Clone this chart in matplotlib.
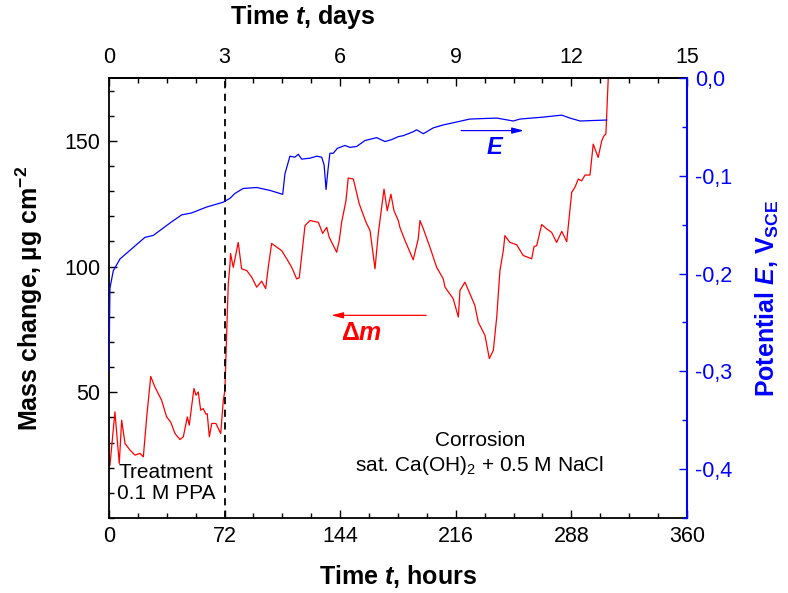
import numpy as np
import matplotlib
matplotlib.use('Agg')
import matplotlib.pyplot as plt
from matplotlib.ticker import MultipleLocator, FuncFormatter

plt.rcParams['font.family'] = ['Liberation Sans', 'DejaVu Sans']
plt.rcParams['mathtext.fontset'] = 'custom'
plt.rcParams['mathtext.rm'] = 'Liberation Sans'
plt.rcParams['mathtext.it'] = 'Liberation Sans:italic'
plt.rcParams['mathtext.bf'] = 'Liberation Sans:bold'
plt.rcParams['mathtext.bfit'] = 'Liberation Sans:bold:italic'

# mass change (left axis), hours vs ug/cm2
mass_t = [0.6, 3.7, 6.4, 7.9, 10.0, 13.1, 16.2, 19.3, 21.4, 23.5, 26.0, 28.6, 32.8, 35.9,
          38.4, 41.1, 44.2, 46.3, 48.8, 50.0, 52.9, 54.2, 55.6, 57.1, 58.7, 60.4, 61.2,
          62.5, 64.0, 66.6, 69.6, 71.2, 72.2, 73.3, 74.3, 75.4, 75.7, 77.4, 80.5, 82.6,
          85.8, 88.9, 92.0, 95.1, 97.6, 99.2, 101.3, 107.6, 110.7, 113.8, 116.9, 118.5,
          122.1, 125.2, 130.4, 133.1, 135.6, 137.2, 141.8, 143.4, 144.9, 147.6, 149.0,
          152.2, 155.9, 160.1, 162.6, 165.7, 167.7, 171.3, 173.3, 175.6, 177.5, 180.2,
          181.2, 184.4, 189.5, 192.6, 193.7, 195.8, 199.9, 204.1, 208.2, 209.3, 214.4,
          217.6, 218.6, 221.7, 224.8, 227.9, 230.0, 234.2, 236.9, 239.4, 241.5, 243.5,
          245.6, 246.6, 249.7, 253.9, 258.0, 263.3, 264.7, 266.4, 269.5, 272.6, 275.7,
          278.8, 282.0, 285.1, 288.2, 290.2, 292.3, 294.4, 296.5, 299.6, 301.6, 304.7,
          306.9, 308.3, 309.5, 311.0, 311.4]
mass_v = [21.0, 42.2, 21.7, 38.9, 29.6, 27.0, 25.0, 25.7, 24.3, 40.2, 56.3, 52.1, 46.8, 40.2,
          38.2, 33.6, 31.2, 32.3, 40.2, 36.9, 51.5, 48.8, 50.1, 42.9, 43.5, 41.3, 41.5,
          32.3, 37.6, 37.6, 33.6, 46.8, 50.8, 73.3, 93.1, 101.1, 105.2, 99.7, 109.6, 99.1,
          98.4, 95.8, 91.8, 94.2, 91.2, 99.7, 109.2, 106.3, 103.1, 99.7, 95.1, 95.5,
          116.3, 118.3, 117.6, 113.2, 115.6, 111.6, 105.7, 110.3, 117.6, 126.2, 135.2,
          134.8, 124.9, 117.6, 114.3, 99.1, 113.0, 130.8, 122.2, 128.8, 122.2, 118.3,
          115.6, 110.3, 102.7, 111.0, 118.3, 115.0, 107.7, 99.7, 95.1, 91.8, 87.2,
          79.9, 90.5, 93.8, 89.2, 84.5, 77.9, 72.6, 63.4, 66.7, 79.9, 98.4,
          106.3, 112.3, 109.6, 108.7, 104.4, 103.1, 107.9, 108.3, 116.7, 115.0, 113.6,
          109.6, 114.0, 109.9, 129.5, 131.5, 134.8, 134.1, 136.4, 136.4, 148.7, 143.4,
          150.0, 152.0, 152.7, 175.5, 182.0]

# potential (right axis), hours vs V_SCE
pot_t = [0.0, 0.6, 2.7, 6.9, 22.4, 27.6, 39.1, 45.3, 51.5, 60.8, 71.2, 75.4, 78.5, 83.6,
         92.0, 100.3, 108.2, 109.6, 112.7, 115.8, 117.9, 120.0, 125.2, 129.4, 132.5,
         134.0, 135.2, 136.4, 137.6, 139.7, 142.2, 147.0, 150.1, 154.3, 159.4, 166.7,
         171.9, 176.1, 180.2, 183.3, 189.5, 191.6, 195.8, 202.0, 208.2, 216.6, 224.8,
         241.5, 251.8, 256.0, 270.5, 282.0, 287.1, 293.4, 310.0]
pot_v = [-0.300, -0.215, -0.197, -0.185, -0.163, -0.161, -0.147, -0.140, -0.138, -0.132,
         -0.127, -0.123, -0.118, -0.113, -0.112, -0.115, -0.119, -0.098, -0.080, -0.081,
         -0.078, -0.083, -0.082, -0.080, -0.081, -0.089, -0.114, -0.094, -0.077, -0.077,
         -0.072, -0.069, -0.071, -0.070, -0.064, -0.061, -0.065, -0.063, -0.060, -0.059,
         -0.055, -0.053, -0.057, -0.051, -0.048, -0.045, -0.042, -0.041, -0.044, -0.042,
         -0.040, -0.038, -0.041, -0.044, -0.043]

hour_ticks = [0, 72, 144, 216, 288, 360]
day_ticks = [0, 3, 6, 9, 12, 15]
mass_ticks = [50, 100, 150]
pot_ticks = [0.0, -0.1, -0.2, -0.3, -0.4]

fig = plt.figure(figsize=(7.88, 5.93), dpi=100)
ax = fig.add_axes([0.1383, 0.1265, 0.7335, 0.742])
ax2 = ax.twinx()

ax.plot(mass_t, mass_v, color='red', lw=0.9)
ax2.plot(pot_t, pot_v, color='blue', lw=0.9)

ax.set_xlim(0, 360)
ax.set_ylim(0, 175)
ax2.set_ylim(-0.45, 0.0)

ax.axvline(72, color='black', lw=1.3, ls=(0, (4, 3)))

tk = dict(direction='in', labelsize=15.5, width=1)
ax.set_xticks(hour_ticks)
ax.xaxis.set_minor_locator(MultipleLocator(18))
ax.set_yticks(mass_ticks)
ax.yaxis.set_minor_locator(MultipleLocator(10))
ax.tick_params(axis='both', which='major', length=6, pad=6, **tk)
ax.tick_params(axis='both', which='minor', length=3.5, direction='in', width=1)
ax.tick_params(axis='y', right=False, which='both')

ax2.set_yticks(pot_ticks)
ax2.yaxis.set_minor_locator(MultipleLocator(0.05))
ax2.yaxis.set_major_formatter(FuncFormatter(lambda v, p: ('%.1f' % v).replace('.', ',').replace('-0,0', '0,0')))
ax2.tick_params(axis='y', which='major', length=6, pad=6, colors='blue', **tk)
ax2.tick_params(axis='y', which='minor', length=3.5, direction='in', width=1, colors='blue')

top = ax.secondary_xaxis('top', functions=(lambda h: h / 24.0, lambda d: d * 24.0))
top.set_xticks(day_ticks)
top.xaxis.set_minor_locator(MultipleLocator(0.75))
top.tick_params(axis='x', which='major', length=6, pad=7, **tk)
top.tick_params(axis='x', which='minor', length=3.5, direction='in', width=1)

for s in ax.spines.values():
    s.set_linewidth(1.3)
ax.spines['right'].set_visible(False)
for s in ax2.spines.values():
    s.set_visible(False)
ax2.spines['right'].set_visible(True)
ax2.spines['right'].set_color('blue')
ax2.spines['right'].set_linewidth(1.5)
top.spines['top'].set_linewidth(1.3)

lab = dict(fontsize=18, fontweight='bold', va='center')
ax.set_xlabel(r'Time $\mathbfit{t}$, hours', **lab)
ax.xaxis.set_label_coords(0.5, -0.134)
fig.text(0.384, 0.971, r'Time $\mathbfit{t}$, days', ha='center', **lab)
ax.set_ylabel(r'Mass change, µg cm$^{\mathbf{-2}}$', **lab)
ax.yaxis.set_label_coords(-0.137, 0.5)
ax2.set_ylabel(r'Potential $\mathbfit{E}$, V$_{\mathbf{SCE}}$', color='blue', **lab)
ax2.yaxis.set_label_coords(1.14, 0.5)

# annotations
ax2.annotate('', xy=(260.2, -0.0538), xytext=(217.6, -0.0538),
             arrowprops=dict(arrowstyle='-|>,head_length=0.7,head_width=0.18', color='blue', lw=0.9))
ax2.text(240.4, -0.0716, r'$\mathbfit{E}$', color='blue', fontsize=17, ha='center', va='center')
ax.annotate('', xy=(136.7, 80.6), xytext=(199.3, 80.6),
            arrowprops=dict(arrowstyle='-|>,head_length=0.7,head_width=0.18', color='red', lw=0.9))
ax.text(157.6, 73.4, r'$\mathbf{\Delta}\mathbfit{m}$', color='red', fontsize=18, ha='center', va='center')

ax.text(35.5, 13.9, 'Treatment\n0.1 M PPA', fontsize=15, ha='center', va='center', linespacing=1.1)
ax.text(231.5, 31.0, 'Corrosion', fontsize=15, ha='center', va='center')
ax.text(231, 21.0, r'sat. Ca(OH)$_2$ + 0.5 M NaCl', fontsize=15, ha='center', va='center')

fig.savefig('out.png', dpi=100)
